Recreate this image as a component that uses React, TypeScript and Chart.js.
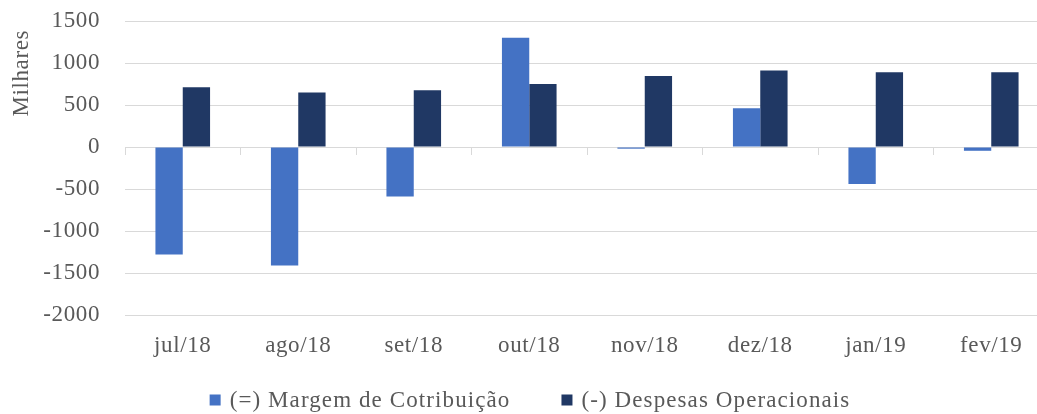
import React, { useEffect, useRef } from "react";
import { Chart, registerables } from "chart.js";

Chart.register(...registerables);

const categories = ["jul/18", "ago/18", "set/18", "out/18", "nov/18", "dez/18", "jan/19", "fev/19"];
const margemValues = [-1280, -1410, -590, 1300, -20, 460, -440, -45];
const despesasValues = [710, 650, 675, 750, 845, 910, 890, 890];
const seriesNames = ["(=) Margem de Cotribuição", "(-) Despesas Operacionais"];
const seriesColors = ["#4472C4", "#203864"];
const yTitle = "Milhares";
const yMin = -2000;
const yMax = 1500;
const yStep = 500;

const FONT = "'Liberation Serif', 'Times New Roman', serif";
const FS = 23;
const TEXT = "#595959";
const GRID = "#D9D9D9";

const customDecor = {
  id: "customDecor",
  beforeDraw(chart: any) {
    (chart.ctx as any).letterSpacing = "0.6px";
  },
  afterDraw(chart: any) {
    const ctx = chart.ctx;
    const area = chart.chartArea;
    ctx.save();
    ctx.font = `${FS}px ${FONT}`;
    (ctx as any).letterSpacing = "0.6px";
    ctx.fillStyle = TEXT;
    ctx.translate(22, area.top + 9);
    ctx.rotate(-Math.PI / 2);
    ctx.textAlign = "right";
    ctx.textBaseline = "middle";
    ctx.fillText(yTitle, 0, 0);
    ctx.restore();

    ctx.save();
    ctx.font = `${FS}px ${FONT}`;
    (ctx as any).letterSpacing = "1.1px";
    const box = 11;
    const textGap = 9;
    const itemGap = 51;
    const ds = chart.data.datasets;
    const widths = ds.map((d: any) => box + textGap + ctx.measureText(d.label).width);
    const total = widths.reduce((a: number, b: number) => a + b, 0) + itemGap * (ds.length - 1);
    let x = chart.width / 2 - total / 2;
    const y = chart.height - 14;
    ds.forEach((d: any, i: number) => {
      ctx.fillStyle = d.backgroundColor;
      ctx.fillRect(x, y - box / 2, box, box);
      ctx.fillStyle = TEXT;
      ctx.textAlign = "left";
      ctx.textBaseline = "middle";
      ctx.fillText(d.label, x + box + textGap, y + 1);
      x += widths[i] + itemGap;
    });
    ctx.restore();
  },
};

export default function App() {
  const ref = useRef<HTMLCanvasElement>(null);
  useEffect(() => {
    if (!ref.current) return;
    const chart = new Chart(ref.current, {
      type: "bar",
      data: {
        labels: categories,
        datasets: [
          { label: seriesNames[0], data: margemValues, backgroundColor: seriesColors[0], categoryPercentage: 0.473, barPercentage: 1 },
          { label: seriesNames[1], data: despesasValues, backgroundColor: seriesColors[1], categoryPercentage: 0.473, barPercentage: 1 },
        ],
      },
      options: {
        animation: false,
        responsive: false,
        maintainAspectRatio: false,
        layout: { padding: { top: 21, right: 11, bottom: 49, left: 0 } },
        plugins: { legend: { display: false }, tooltip: { enabled: false } },
        scales: {
          x: {
            type: "category",
            position: "bottom",
            offset: true,
            grid: { display: false },
            border: { display: false },
            ticks: { color: TEXT, font: { family: FONT, size: FS }, padding: 9, maxRotation: 0 },
            afterFit: (s: any) => { s.height = 50; s.paddingTop = 0; },
          },
          x2: {
            type: "category",
            position: { y: 0 },
            offset: true,
            grid: { display: true, offset: true, drawOnChartArea: false, drawTicks: true, tickLength: 8, color: GRID, lineWidth: 1 },
            border: { display: false },
            ticks: { display: false },
            afterFit: (s: any) => { s.height = 0; s.paddingTop = 0; s.paddingBottom = 0; },
          },
          y: {
            min: yMin,
            max: yMax,
            grid: { color: GRID, lineWidth: 1, drawTicks: false },
            border: { display: false },
            ticks: {
              stepSize: yStep,
              color: TEXT,
              font: { family: FONT, size: FS },
              padding: 25,
              callback: (v: any) => String(v),
            },
            afterFit: (s: any) => { s.width = 125; s.paddingTop = 0; },
          },
        },
      } as any,
      plugins: [customDecor],
    });
    return () => chart.destroy();
  }, []);
  return (
    <div style={{ position: "fixed", left: 0, top: 0, width: 1037, height: 414, overflow: "hidden", background: "#fff" }}>
      <canvas ref={ref} width={1060} height={414} style={{ width: 1060, height: 414, display: "block" }} />
    </div>
  );
}
